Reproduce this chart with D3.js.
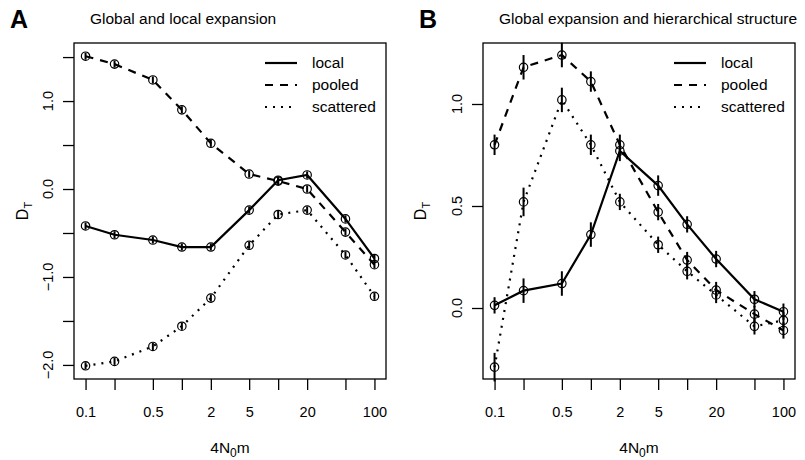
<!DOCTYPE html>
<html>
<head>
<meta charset="utf-8">
<script src="https://cdn.jsdelivr.net/npm/d3@7"></script>
<style>
  body { margin: 0; background: #fff; }
  text { font-family: "Liberation Sans", Arial, sans-serif; fill: #000; }
</style>
</head>
<body>
<div id="chart"></div>
<script>
var svgWidth = 805;
var svgHeight = 460;

// x values (4N0m) and tick labels
var migration = [0.1, 0.2, 0.5, 1, 2, 5, 10, 20, 50, 100];
var xTickLabels = ["0.1", "", "0.5", "", "2", "5", "", "20", "", "100"];

// Panel A: global and local expansion
var localA = [-0.42, -0.52, -0.58, -0.66, -0.66, -0.24, 0.10, 0.16, -0.34, -0.79];
var pooledA = [1.51, 1.42, 1.24, 0.90, 0.52, 0.17, 0.09, 0.00, -0.49, -0.86];
var scatteredA = [-2.01, -1.96, -1.79, -1.56, -1.24, -0.64, -0.29, -0.24, -0.75, -1.22];
var localErrA = [0.04, 0.04, 0.04, 0.04, 0.04, 0.04, 0.04, 0.04, 0.04, 0.04];
var pooledErrA = [0.04, 0.04, 0.04, 0.04, 0.04, 0.04, 0.04, 0.04, 0.04, 0.04];
var scatteredErrA = [0.04, 0.04, 0.04, 0.04, 0.04, 0.04, 0.04, 0.04, 0.04, 0.04];
var yTicksA = [-2.0, -1.5, -1.0, -0.5, 0.0, 0.5, 1.0, 1.5];
var yTickLabelsA = ["\u22122.0", "", "\u22121.0", "", "0.0", "", "1.0", ""];

// Panel B: global expansion and hierarchical structure
var localB = [0.013, 0.085, 0.12, 0.36, 0.77, 0.60, 0.41, 0.24, 0.043, -0.018];
var pooledB = [0.80, 1.18, 1.24, 1.11, 0.80, 0.47, 0.235, 0.088, -0.03, -0.11];
var scatteredB = [-0.29, 0.52, 1.02, 0.80, 0.52, 0.31, 0.18, 0.064, -0.09, -0.06];
var localErrB = [0.04, 0.06, 0.06, 0.06, 0.05, 0.05, 0.04, 0.04, 0.04, 0.04];
var pooledErrB = [0.05, 0.06, 0.06, 0.05, 0.05, 0.04, 0.04, 0.04, 0.04, 0.04];
var scatteredErrB = [0.07, 0.07, 0.06, 0.05, 0.04, 0.04, 0.04, 0.04, 0.04, 0.04];
var yTicksB = [0.0, 0.5, 1.0];
var yTickLabelsB = ["0.0", "0.5", "1.0"];

var seriesNames = ["local", "pooled", "scattered"];
var dashes = [null, "8,7", "2,6"];

var svg = d3.select("#chart")
    .append("svg")
    .attr("width", svgWidth)
    .attr("height", svgHeight);

function drawPanel(p) {
    var width = p.right - p.left;
    var height = p.bottom - p.top;

    var chartGroup = svg.append("g")
        .attr("transform", `translate(${p.left}, ${p.top})`);

    // log x scale, padded like R (4% each side)
    var xScale = d3.scaleLog()
        .domain([Math.pow(10, -1.12), Math.pow(10, 2.12)])
        .range([0, width]);

    var yScale = d3.scaleLinear()
        .domain(p.yDomain)
        .range([height, 0]);

    // axes
    var bottomAxis = d3.axisBottom(xScale)
        .tickValues(migration)
        .tickSize(11)
        .tickPadding(17)
        .tickFormat((d, i) => xTickLabels[i]);

    var leftAxis = d3.axisLeft(yScale)
        .tickValues(p.yTicks)
        .tickSize(11)
        .tickFormat("");

    var xAxisG = chartGroup.append("g")
        .attr("transform", `translate(0, ${height})`)
        .call(bottomAxis);
    xAxisG.select(".domain").remove();
    xAxisG.selectAll("line").attr("stroke-width", 1.3);
    xAxisG.selectAll("text")
        .style("font-family", "Liberation Sans, Arial, sans-serif")
        .style("font-size", "14.5px");

    var yAxisG = chartGroup.append("g")
        .call(leftAxis);
    yAxisG.select(".domain").remove();
    yAxisG.selectAll("line").attr("stroke-width", 1.3);

    // rotated y tick labels
    chartGroup.selectAll(".ylab")
        .data(p.yTicks)
        .enter()
        .append("text")
        .attr("class", "ylab")
        .attr("transform", d => `translate(-21, ${yScale(d)}) rotate(-90)`)
        .attr("text-anchor", "middle")
        .style("font-size", "14.5px")
        .text((d, i) => p.yTickLabels[i]);

    // box
    chartGroup.append("rect")
        .attr("width", width)
        .attr("height", height)
        .attr("fill", "none")
        .attr("stroke", "#000")
        .attr("stroke-width", 1.3);

    var line = d3.line()
        .x((d, i) => xScale(migration[i]))
        .y(d => yScale(d));

    p.series.forEach(function (vals, s) {
        chartGroup.append("path")
            .datum(vals)
            .attr("d", line)
            .attr("fill", "none")
            .attr("stroke", "#000")
            .attr("stroke-width", 2.2)
            .attr("stroke-dasharray", dashes[s]);

        // error bars
        chartGroup.selectAll(".err" + s)
            .data(vals)
            .enter()
            .append("line")
            .attr("class", "err" + s)
            .attr("x1", (d, i) => xScale(migration[i]))
            .attr("x2", (d, i) => xScale(migration[i]))
            .attr("y1", (d, i) => yScale(d - p.errors[s][i]))
            .attr("y2", (d, i) => yScale(d + p.errors[s][i]))
            .attr("stroke", "#000")
            .attr("stroke-width", 2);

        chartGroup.selectAll(".pt" + s)
            .data(vals)
            .enter()
            .append("circle")
            .attr("class", "pt" + s)
            .attr("cx", (d, i) => xScale(migration[i]))
            .attr("cy", d => yScale(d))
            .attr("r", 4.2)
            .attr("fill", "none")
            .attr("stroke", "#000")
            .attr("stroke-width", 1.2);
    });

    // legend
    var legend = chartGroup.append("g")
        .attr("transform", `translate(${width - 121}, 20)`);
    seriesNames.forEach(function (name, s) {
        legend.append("line")
            .attr("x1", 0)
            .attr("x2", 32)
            .attr("y1", s * 22)
            .attr("y2", s * 22)
            .attr("stroke", "#000")
            .attr("stroke-width", 2.2)
            .attr("stroke-dasharray", dashes[s]);
        legend.append("text")
            .attr("x", 47)
            .attr("y", s * 22 + 5)
            .style("font-size", "15.5px")
            .text(name);
    });

    // panel letter and title
    svg.append("text")
        .attr("x", p.left - 64)
        .attr("y", 28)
        .style("font-size", "25px")
        .style("font-weight", "bold")
        .text(p.letter);

    svg.append("text")
        .attr("x", p.left + 16)
        .attr("y", 24)
        .style("font-size", "15.5px")
        .text(p.title);

    // axis titles
    var xt = chartGroup.append("text")
        .attr("x", width / 2)
        .attr("y", height + 74)
        .attr("text-anchor", "middle")
        .style("font-size", "15.5px");
    xt.append("tspan").text("4N");
    xt.append("tspan").attr("dy", 4).style("font-size", "12px").text("0");
    xt.append("tspan").attr("dy", -4).text("m");

    var yt = chartGroup.append("text")
        .attr("transform", `translate(${p.yTitleX}, ${height / 2}) rotate(-90)`)
        .attr("text-anchor", "middle")
        .style("font-size", "16px");
    yt.append("tspan").text("D");
    yt.append("tspan").attr("dy", 4).style("font-size", "11px").text("T");
}

drawPanel({
    letter: "A",
    title: "Global and local expansion",
    left: 74, right: 386, top: 43, bottom: 379,
    yDomain: [-2.16, 1.66],
    yTicks: yTicksA,
    yTickLabels: yTickLabelsA,
    yTitleX: -46,
    series: [localA, pooledA, scatteredA],
    errors: [localErrA, pooledErrA, scatteredErrA]
});

drawPanel({
    letter: "B",
    title: "Global expansion and hierarchical structure",
    left: 483, right: 795, top: 43, bottom: 379,
    yDomain: [-0.348, 1.299],
    yTicks: yTicksB,
    yTickLabels: yTickLabelsB,
    yTitleX: -57,
    series: [localB, pooledB, scatteredB],
    errors: [localErrB, pooledErrB, scatteredErrB]
});
</script>
</body>
</html>
